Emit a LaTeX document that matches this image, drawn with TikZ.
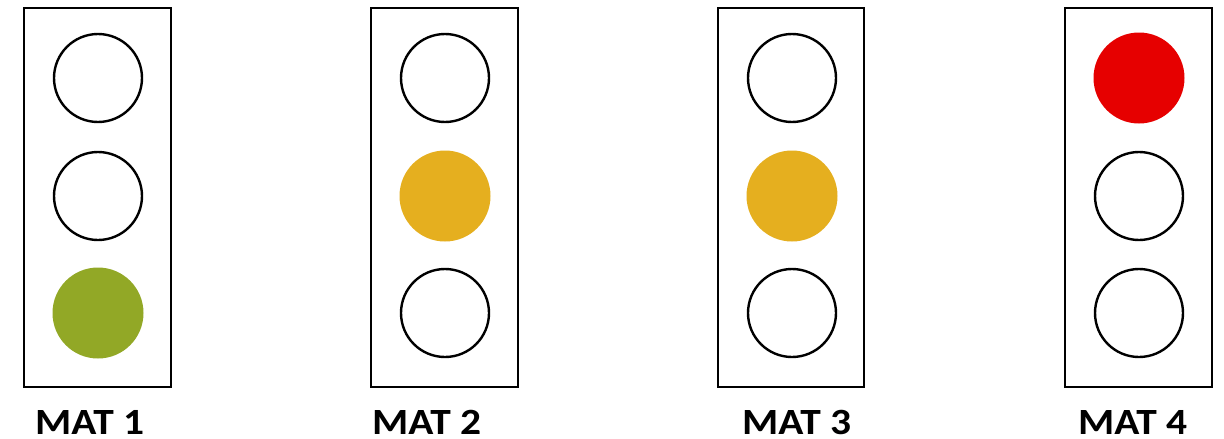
\documentclass[tikz,border=0pt]{standalone}
\usepackage{fontspec}
\setmainfont{Carlito}
\definecolor{lampgreen}{RGB}{146,168,38}
\definecolor{lampamber}{RGB}{229,175,31}
\definecolor{lampred}{RGB}{230,0,0}
\tikzset{
  housing/.style={draw=black, line width=2.4pt, fill=white},
  lampoff/.style={circle, draw=black, line width=2.4pt, minimum size=88pt, inner sep=0pt},
  lampon/.style={circle, minimum size=91pt, inner sep=0pt},
  caption/.style={anchor=base west, inner sep=0pt, xscale=1.12, font=\fontsize{37}{40}\selectfont\bfseries}
}
\begin{document}
\begin{tikzpicture}[x=1pt, y=-1pt]
\useasboundingbox (0,0) rectangle (1224,439);
% housings
\draw[housing] (24,8) rectangle (171,387);
\draw[housing] (371,8) rectangle (518,387);
\draw[housing] (718,8) rectangle (864,387);
\draw[housing] (1065,8) rectangle (1212,387);
% light 1: green
\node[lampoff] (l1a) at (98,78) {};
\node[lampoff] (l1b) at (98,196) {};
\node[lampon, fill=lampgreen] (l1c) at (98,313) {};
% light 2: amber
\node[lampoff] (l2a) at (445,78) {};
\node[lampon, fill=lampamber] (l2b) at (445,196) {};
\node[lampoff] (l2c) at (445,313) {};
% light 3: amber
\node[lampoff] (l3a) at (792,78) {};
\node[lampon, fill=lampamber] (l3b) at (792,196) {};
\node[lampoff] (l3c) at (792,313) {};
% light 4: red
\node[lampon, fill=lampred] (l4a) at (1139,78) {};
\node[lampoff] (l4b) at (1139,196) {};
\node[lampoff] (l4c) at (1139,313) {};
% captions
\node[caption] (c1) at (35,434) {MAT 1};
\node[caption] (c2) at (372,434) {MAT 2};
\node[caption] (c3) at (742,434) {MAT 3};
\node[caption] (c4) at (1078,434) {MAT 4};
\end{tikzpicture}
\end{document}
